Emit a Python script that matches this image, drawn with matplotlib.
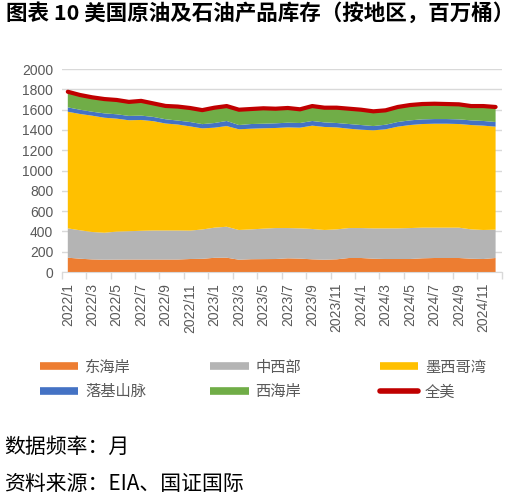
import matplotlib
matplotlib.use("Agg")
import matplotlib.pyplot as plt
from matplotlib.lines import Line2D
import numpy as np

plt.rcParams["font.family"] = ["Noto Sans CJK SC", "DejaVu Sans"]

# monthly stocks by region, million barrels
months = [f"{y}/{m}" for y in (2022, 2023, 2024) for m in range(1, 13)]
east_coast = [141, 131, 124, 121, 122, 123, 123, 123, 123, 123, 128, 130,
              140, 141, 121, 126, 127, 128, 135, 132, 125, 121, 125, 138,
              138, 131, 128, 128, 128, 135, 138, 138, 138, 131, 128, 138]
midwest = [289, 280, 270, 266, 276, 279, 283, 286, 286, 286, 280, 289,
           297, 305, 293, 294, 300, 305, 298, 298, 299, 293, 295, 295,
           295, 299, 302, 302, 305, 302, 299, 299, 299, 289, 286, 279]
gulf_coast = [1149, 1146, 1146, 1133, 1113, 1093, 1092, 1077, 1054, 1044, 1027, 996,
              985, 992, 992, 992, 989, 986, 992, 992, 1018, 1015, 1005, 979,
              969, 966, 976, 1002, 1015, 1021, 1024, 1024, 1021, 1028, 1028, 1015]
rocky_mtn = [43, 42, 39, 43, 43, 43, 43, 42, 42, 39, 43, 42,
             46, 50, 42, 46, 45, 46, 46, 46, 46, 45, 43, 46,
             46, 42, 45, 46, 46, 46, 46, 46, 46, 46, 46, 46]
west_coast = [154, 145, 142, 141, 141, 138, 145, 133, 131, 138, 138, 138,
              151, 147, 151, 148, 152, 144, 145, 135, 147, 145, 151, 151,
              151, 145, 142, 148, 151, 151, 151, 148, 148, 141, 147, 148]

labels = ["东海岸", "中西部", "墨西哥湾", "落基山脉", "西海岸", "全美"]
colors = ["#ED7D31", "#B4B4B4", "#FFC000", "#4472C4", "#70AD47", "#C00000"]

stack = np.array([east_coast, midwest, gulf_coast, rocky_mtn, west_coast])
total = stack.sum(axis=0)
x = np.arange(len(months))

fig = plt.figure(figsize=(5.30, 4.99), dpi=100)
ax = fig.add_axes([0.1164, 0.4549, 0.8302, 0.4068])

ax.stackplot(x, stack, colors=colors[:5], linewidth=0, zorder=2)
ax.plot(x, total, color=colors[5], lw=3, solid_capstyle="round", zorder=3)

ax.set_xlim(-0.5, len(months) - 0.5)
ax.set_ylim(0, 2000)
ax.set_yticks(np.arange(0, 2001, 200))
ax.yaxis.grid(True, color="#D9D9D9", lw=1)
ax.set_axisbelow(True)

tick_font = ["Liberation Sans", "DejaVu Sans"]
ax.set_xticks(x[::2])
ax.set_xticklabels(months[::2], rotation=90, family=tick_font, fontsize=10, color="#595959")
ax.set_xticks(np.arange(-0.5, len(months), 2), minor=True)
ax.tick_params(axis="x", which="major", length=0, pad=8)
ax.tick_params(axis="x", which="minor", length=5, color="#D9D9D9", width=1)
ax.tick_params(axis="y", length=0, pad=6)
for t in ax.get_yticklabels():
    t.set_family(tick_font)
    t.set_fontsize(10)
    t.set_color("#595959")

for side in ("top", "right", "left"):
    ax.spines[side].set_visible(False)
ax.spines["bottom"].set_color("#D9D9D9")

# legend: three columns placed like the Excel legend
cols = [(0, 3), (1, 4), (2, 5)]
xpos = [0.076, 0.397, 0.717]
for (a, b), xp in zip(cols, xpos):
    hs = []
    for i in (a, b):
        if i == 5:
            hs.append(Line2D([], [], color=colors[i], lw=4, solid_capstyle="round"))
        else:
            hs.append(Line2D([], [], color=colors[i], lw=5.5, solid_capstyle="butt"))
    fig.legend(hs, [labels[a], labels[b]], loc="upper left",
               bbox_to_anchor=(xp, 0.281), frameon=False, fontsize=11,
               handlelength=2.5, handletextpad=0.45, labelspacing=0.5,
               borderpad=0, borderaxespad=0, labelcolor="#595959")

fig.text(0.012, 0.975, "图表 10 美国原油及石油产品库存（按地区，百万桶）",
         fontsize=15.5, fontweight="bold", va="center", ha="left")
fig.text(0.008, 0.104, "数据频率：月", fontsize=15, va="center", ha="left")
fig.text(0.008, 0.030, "资料来源：EIA、国证国际", fontsize=15, va="center", ha="left")

fig.savefig("out.png", dpi=100)
